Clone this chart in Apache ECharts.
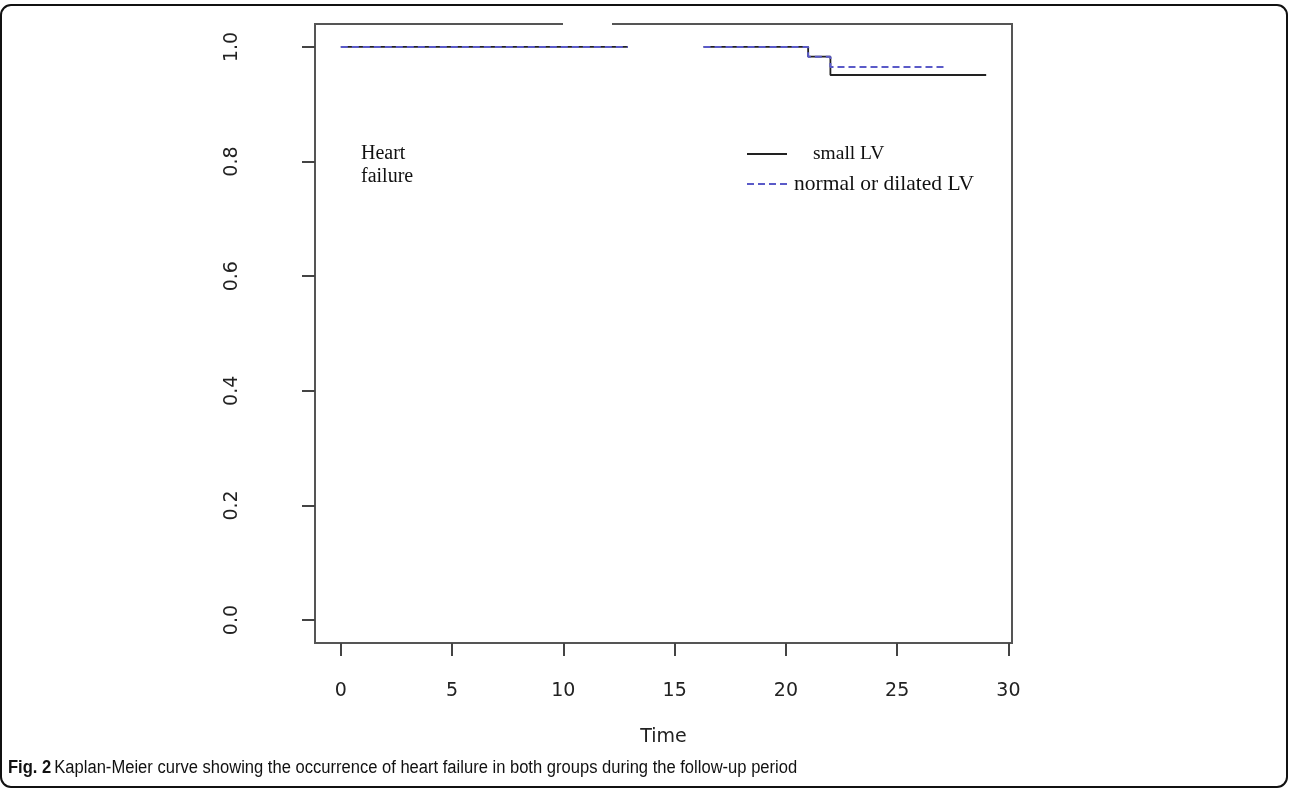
<!DOCTYPE html>
<html><head><meta charset="utf-8">
<script src="https://cdn.jsdelivr.net/npm/echarts@6/dist/echarts.min.js"></script>
<style>html,body{margin:0;padding:0;background:#fff}#c{width:1290px;height:788px}</style>
</head><body><div id="c"></div>
<script>
// Kaplan-Meier step data (time, survival); '-' marks the break visible in the picture
const smallTimes = [0, 12.9, 12.9, 16.3, 21, 22, 29];
const smallSurv  = [1, 1, '-', 1, 0.983, 0.951, 0.951];
const normalTimes = [0, 12.9, 12.9, 16.3, 21, 22, 27.1];
const normalSurv  = [1, 1, '-', 1, 0.983, 0.965, 0.965];
const xTicks = [0, 5, 10, 15, 20, 25, 30];
const yTicks = [0, 0.2, 0.4, 0.6, 0.8, 1.0];
const seriesNames = ['small LV', 'normal or dilated LV'];

const chart = echarts.init(document.getElementById('c'));
const pair = (t, s) => t.map((v, i) => [v, s[i]]);
const axisFont = {fontFamily: 'DejaVu Sans', fontSize: 19, color: '#222'};

chart.setOption({
  animation: false,
  grid: {left: 315, top: 24, width: 697, height: 619, show: true, borderColor: '#555', borderWidth: 2, backgroundColor: 'transparent'},
  xAxis: {
    type: 'value', min: -1.16, max: 30.16,
    axisLine: {show: false, onZero: false}, splitLine: {show: false},
    axisTick: {show: true, customValues: xTicks, length: 13, lineStyle: {color: '#444', width: 2}},
    axisLabel: Object.assign({customValues: xTicks, margin: 39}, axisFont),
    name: 'Time', nameLocation: 'middle', nameGap: 85,
    nameTextStyle: axisFont
  },
  yAxis: {
    type: 'value', min: -0.04, max: 1.04,
    axisLine: {show: false, onZero: false}, splitLine: {show: false},
    axisTick: {show: true, customValues: yTicks, length: 13, lineStyle: {color: '#444', width: 2}},
    axisLabel: Object.assign({customValues: yTicks, margin: 73, rotate: 90, formatter: v => v.toFixed(1)}, axisFont)
  },
  legend: [
    {data: [seriesNames[0]], left: 746, top: 144, padding: 0, itemWidth: 40, itemHeight: 14,
     itemStyle: {opacity: 0},
     textStyle: {fontFamily: 'Liberation Serif', fontSize: 19.5, color: '#111', padding: [0, 0, 0, 21]}},
    {data: [seriesNames[1]], left: 746, top: 173, padding: 0, itemWidth: 42, itemHeight: 14,
     itemStyle: {opacity: 0},
     textStyle: {fontFamily: 'Liberation Serif', fontSize: 21.5, color: '#111', padding: [0, 0, 0, 0]}}
  ],
  series: [
    {name: seriesNames[0], type: 'line', step: 'end', symbol: 'none', data: pair(smallTimes, smallSurv),
     connectNulls: false, lineStyle: {color: '#222', width: 1.8}, itemStyle: {color: '#222'}, z: 2},
    {name: seriesNames[1], type: 'line', step: 'end', symbol: 'none', data: pair(normalTimes, normalSurv),
     connectNulls: false, lineStyle: {color: '#5a5ac8', width: 2, type: [7, 4]}, itemStyle: {color: '#5a5ac8'}, z: 3}
  ],
  graphic: [
    {type: 'rect', left: 563, top: 21, shape: {width: 49, height: 7}, style: {fill: '#fff'}, z: 100},
    {type: 'text', left: 361, top: 142, style: {text: 'Heart\nfailure', font: '20px "Liberation Serif"', fill: '#111', lineHeight: 23}},
    {type: 'rect', shape: {x: 1, y: 5, width: 1286, height: 782, r: 10}, style: {fill: 'none', stroke: '#111', lineWidth: 2}, silent: true},
    {type: 'text', x: 8, y: 759, scaleX: 0.92, style: {
      text: '{b|Fig. 2} {n|Kaplan-Meier curve showing the occurrence of heart failure in both groups during the follow-up period}',
      rich: {
        b: {fontFamily: 'Liberation Sans', fontWeight: 'bold', fontSize: 18, fill: '#111'},
        n: {fontFamily: 'Liberation Sans', fontSize: 18, fill: '#111'}
      }
    }}
  ]
});
</script></body></html>
